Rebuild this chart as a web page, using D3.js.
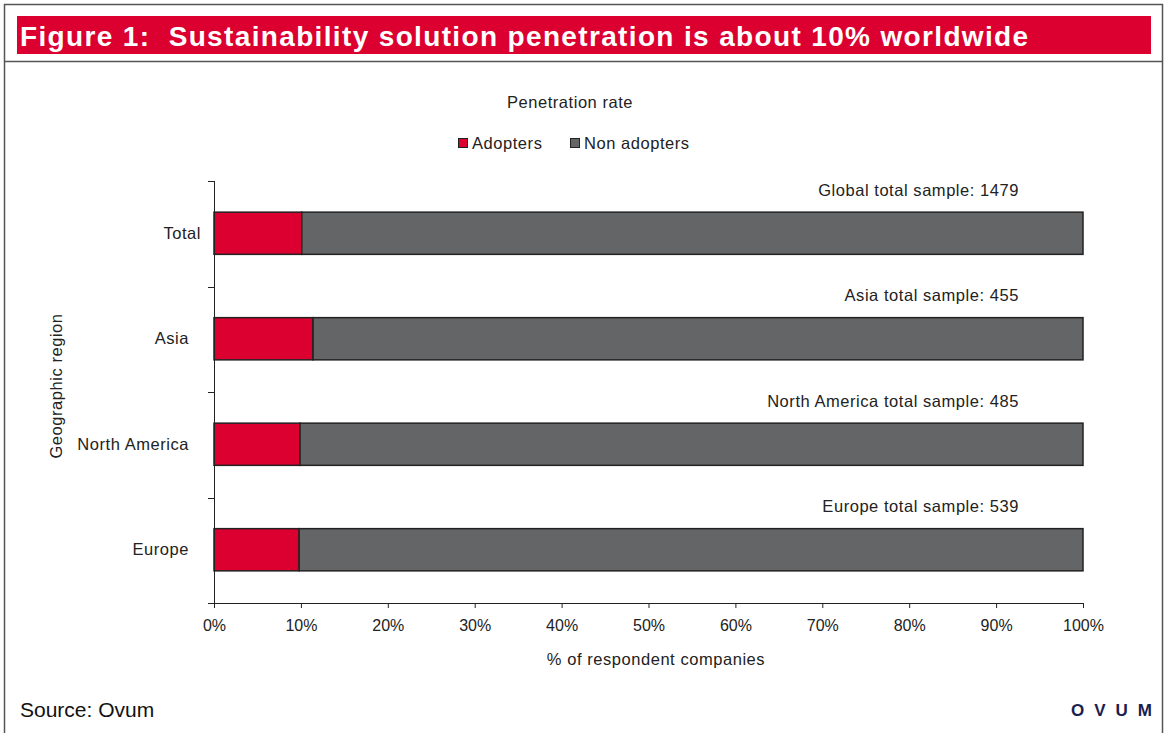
<!DOCTYPE html>
<html>
<head>
<meta charset="utf-8">
<script src="https://cdn.jsdelivr.net/npm/d3@7"></script>
<style>
  html, body { margin: 0; padding: 0; background: #fff; }
  svg { display: block; font-family: "Liberation Sans", Arial, sans-serif; }
  .lbl { font-size: 16.5px; letter-spacing: 0.55px; fill: #222; }
</style>
</head>
<body>
<svg id="chart" width="1167" height="733"></svg>
<script>
// Regions, in display order (top to bottom)
const regions = ["Total", "Asia", "North America", "Europe"];
// Share of adopters per region (%)
const adopters = [10.1, 11.4, 9.9, 9.8];
// Share of non adopters per region (%)
const nonAdopters = adopters.map(v => 100 - v);
// Sample size note shown above each bar
const sampleNotes = [
  "Global total sample: 1479",
  "Asia total sample: 455",
  "North America total sample: 485",
  "Europe total sample: 539"
];
const seriesNames = ["Adopters", "Non adopters"];
const xTicks = [0, 10, 20, 30, 40, 50, 60, 70, 80, 90, 100];

const RED = "#dc0030", GREY = "#646567", INK = "#222";

const svg = d3.select("#chart");

// Frame and heading bar
svg.append("rect").attr("x", 4.5).attr("y", 4.5).attr("width", 1158).attr("height", 740)
  .attr("fill", "none").attr("stroke", "#555").attr("stroke-width", 1.5);
svg.append("line").attr("x1", 4).attr("x2", 1163).attr("y1", 61.5).attr("y2", 61.5)
  .attr("stroke", "#555").attr("stroke-width", 1.5);
svg.append("rect").attr("x", 17).attr("y", 16).attr("width", 1134).attr("height", 38).attr("fill", RED);
svg.append("text").attr("x", 20).attr("y", 46)
  .attr("fill", "#fff").attr("font-weight", "bold").attr("font-size", 28)
  .attr("letter-spacing", 1.35)
  .attr("xml:space", "preserve")
  .text("Figure 1:  Sustainability solution penetration is about 10% worldwide");

// Plot area
const m = { left: 214, right: 1083, top: 181, bottom: 603 };
const x = d3.scaleLinear().domain([0, 100]).range([m.left, m.right]);
const y = d3.scaleBand().domain(regions).range([m.top, m.bottom]).paddingInner(0.6).paddingOuter(0.3);

// Stacked series
const rows = regions.map((r, i) => ({ region: r, Adopters: adopters[i], "Non adopters": nonAdopters[i] }));
const stack = d3.stack().keys(seriesNames)(rows);
const color = d3.scaleOrdinal().domain(seriesNames).range([RED, GREY]);

svg.append("g").selectAll("g").data(stack).join("g")
  .attr("fill", d => color(d.key))
  .selectAll("rect").data(d => d).join("rect")
  .attr("x", d => x(d[0]))
  .attr("width", d => x(d[1]) - x(d[0]))
  .attr("y", d => y(d.data.region) - 0.5)
  .attr("height", y.bandwidth())
  .attr("stroke", INK).attr("stroke-width", 1.5);

// Sample notes above bars
svg.append("g").selectAll("text").data(regions).join("text")
  .attr("class", "lbl")
  .attr("x", 1019)
  .attr("y", r => y(r) - 17)
  .attr("text-anchor", "end")
  .text((r, i) => sampleNotes[i]);

// X axis
const xAxis = svg.append("g").attr("transform", `translate(0,${m.bottom})`)
  .call(d3.axisBottom(x).tickValues(xTicks).tickFormat(d => d + "%").tickSize(5).tickPadding(12));
xAxis.select(".domain").attr("stroke", INK).attr("d", `M${m.left - 6},0.5H${m.right}`);
xAxis.selectAll(".tick line").attr("stroke", INK);
xAxis.selectAll("text").attr("font-size", 16).attr("fill", INK)
  .attr("font-family", "Liberation Sans, Arial, sans-serif");

// Y axis: ticks sit on band boundaries
const boundaries = d3.range(regions.length + 1).map(i => m.top + i * (m.bottom - m.top) / regions.length);
const yAxis = svg.append("g");
yAxis.append("line").attr("x1", m.left + 0.5).attr("x2", m.left + 0.5)
  .attr("y1", m.top).attr("y2", m.bottom + 5).attr("stroke", INK);
yAxis.selectAll("line.tk").data(boundaries).join("line").attr("class", "tk")
  .attr("x1", m.left - 6).attr("x2", m.left).attr("y1", d => Math.round(d) + 0.5).attr("y2", d => Math.round(d) + 0.5)
  .attr("stroke", INK);
// The summary row label sits a little closer to the axis than the regions
yAxis.selectAll("text").data(regions).join("text")
  .attr("class", "lbl")
  .attr("x", (r, i) => i === 0 ? 201 : 189)
  .attr("y", r => y(r) + y.bandwidth() / 2 - 1)
  .attr("dy", "0.35em")
  .attr("text-anchor", "end")
  .text(r => r);

// Axis titles
svg.append("text").attr("class", "lbl").attr("x", 656).attr("y", 665)
  .attr("text-anchor", "middle")
  .text("% of respondent companies");
svg.append("text").attr("class", "lbl")
  .attr("transform", `translate(62,${(m.top + m.bottom) / 2 - 6}) rotate(-90)`)
  .attr("text-anchor", "middle")
  .text("Geographic region");

// Chart title and legend
svg.append("text").attr("class", "lbl").attr("x", 570).attr("y", 108)
  .attr("text-anchor", "middle")
  .text("Penetration rate");
const legendX = [458, 570];
const legend = svg.append("g").selectAll("g").data(seriesNames).join("g")
  .attr("transform", (d, i) => `translate(${legendX[i]},138)`);
legend.append("rect").attr("x", 0.5).attr("y", 0.5).attr("width", 9).attr("height", 9)
  .attr("fill", d => color(d)).attr("stroke", INK);
legend.append("text").attr("class", "lbl").attr("x", 14).attr("y", 11).text(d => d);

// Footer
svg.append("text").attr("x", 20).attr("y", 717).attr("font-size", 21).attr("fill", "#111")
  .text("Source: Ovum");
svg.append("text").attr("x", 1162).attr("y", 716).attr("text-anchor", "end")
  .attr("font-size", 17).attr("font-weight", "bold").attr("fill", "#1a2150")
  .attr("letter-spacing", 10).text("OVUM");
</script>
</body>
</html>
